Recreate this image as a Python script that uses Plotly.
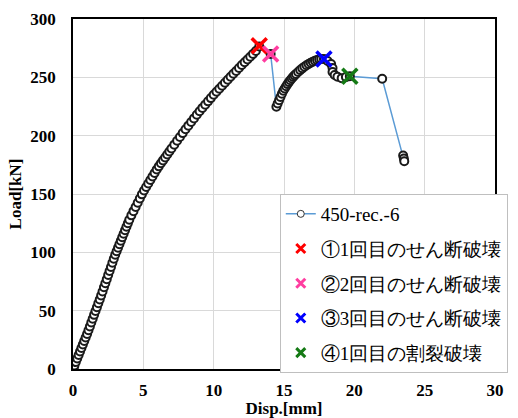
import plotly.graph_objects as go

# Main series "450-rec.-6"
disp = [0.00, 0.02, 0.05, 0.10, 0.20, 0.30, 0.40, 0.50, 0.60, 0.70, 0.80, 0.90,
        1.00, 1.10, 1.20, 1.30, 1.40, 1.50, 1.60, 1.70, 1.80, 1.90,
        2.00, 2.10, 2.20, 2.30, 2.40, 2.50, 2.60, 2.70, 2.80, 2.90,
        3.00, 3.10, 3.20, 3.30, 3.40, 3.50, 3.60, 3.70, 3.80, 3.90,
        4.00, 4.15, 4.30, 4.45, 4.60, 4.75, 4.90, 5.05, 5.20, 5.35,
        5.50, 5.65, 5.80, 5.95, 6.10, 6.25, 6.40, 6.55, 6.70, 6.85,
        7.00, 7.20, 7.40, 7.60, 7.80, 8.00, 8.20, 8.40, 8.60, 8.80,
        9.00, 9.20, 9.40, 9.60, 9.80, 10.00, 10.20, 10.40, 10.60, 10.80,
        11.00, 11.20, 11.40, 11.60, 11.80, 12.00, 12.20, 12.40, 12.60, 12.80,
        13.00, 13.24, 14.05,
        14.46, 14.55, 14.65, 14.75, 14.85, 14.95, 15.05, 15.15, 15.25, 15.35,
        15.45, 15.55, 15.65, 15.75, 15.85, 16.00, 16.15, 16.30, 16.45, 16.60,
        16.75, 16.90, 17.05, 17.20, 17.35, 17.50, 17.65, 17.84,
        18.10, 18.35, 18.45, 18.45, 18.60, 18.80, 19.10, 19.40, 19.68,
        21.98, 23.47, 23.52, 23.55]
load = [0.0, 0.5, 1.2, 3.0, 6.0, 9.0, 12.0, 15.0, 18.0, 21.0, 24.0, 27.0,
        30.0, 33.2, 36.5, 39.8, 43.1, 46.4, 49.7, 53.0, 56.3, 59.6,
        63.0, 66.5, 70.0, 73.5, 77.0, 80.5, 84.0, 87.5, 91.0, 94.5,
        98.0, 101.0, 104.0, 107.0, 110.0, 113.0, 116.0, 119.0, 122.0, 125.0,
        128.0, 131.7, 135.3, 138.9, 142.5, 146.1, 149.7, 153.0, 156.0, 159.0,
        162.0, 165.0, 168.0, 171.0, 173.7, 176.3, 178.8, 181.3, 183.9, 186.4,
        189.0, 192.3, 195.6, 198.9, 202.2, 205.5, 208.6, 211.7, 214.8, 217.9,
        221.0, 223.8, 226.6, 229.4, 232.2, 235.0, 237.6, 240.2, 242.8, 245.4,
        248.0, 250.5, 253.0, 255.5, 258.0, 260.5, 262.9, 265.3, 267.7, 270.1,
        272.5, 276.5, 270.0,
        224.8, 227.5, 230.4, 233.2, 235.9, 238.5, 240.5, 242.4, 244.2, 245.9,
        247.5, 249.0, 250.4, 251.7, 252.9, 254.6, 256.2, 257.7, 259.1, 260.4,
        261.5, 262.5, 263.4, 264.2, 264.9, 265.4, 265.7, 265.8,
        264.0, 261.5, 258.0, 254.5, 252.0, 250.5, 249.3, 250.2, 251.0,
        248.8, 183.0, 180.5, 178.0]

# Failure points (X markers)
fail_names = ["①1回目のせん断破壊", "②2回目のせん断破壊", "③3回目のせん断破壊", "④1回目の割裂破壊"]
fail_disp = [13.24, 14.05, 17.84, 19.68]
fail_load = [277.0, 270.0, 265.8, 251.0]
fail_colors = ["#ff0000", "#ff3da0", "#0000ff", "#157a15"]

x_ticks = [0, 5, 10, 15, 20, 25, 30]
y_ticks = [0, 50, 100, 150, 200, 250, 300]

SERIF = "Times New Roman, Liberation Serif, serif"

fig = go.Figure()
fig.add_trace(go.Scatter(
    x=disp, y=load, mode="lines+markers", name="450-rec.-6",
    line=dict(color="#5b9bd5", width=1.5),
    marker=dict(symbol="circle", size=8, color="white",
                line=dict(color="#1a1a1a", width=2)),
    legendgroup="g0", showlegend=False,
))
# legend entry for main series (small symbol like the reference)
fig.add_trace(go.Scatter(
    x=[None], y=[None], mode="lines+markers", name="450-rec.-6",
    line=dict(color="#5b9bd5", width=1.5),
    marker=dict(symbol="circle", size=7, color="white",
                line=dict(color="#333333", width=1)),
    legendgroup="g0",
))
for i, (n, xv, yv, c) in enumerate(zip(fail_names, fail_disp, fail_load, fail_colors)):
    fig.add_trace(go.Scatter(
        x=[xv], y=[yv], mode="markers", name=n,
        marker=dict(symbol="x-thin", size=15, color=c, line=dict(color=c, width=3.5)),
        legendgroup=f"g{i+1}", showlegend=False,
    ))
    fig.add_trace(go.Scatter(
        x=[None], y=[None], mode="markers", name=n,
        marker=dict(symbol="x-thin", size=9, color=c, line=dict(color=c, width=3)),
        legendgroup=f"g{i+1}",
    ))

fig.update_layout(
    width=518, height=418,
    margin=dict(l=73, r=10, t=19, b=49),
    paper_bgcolor="white", plot_bgcolor="white",
    font=dict(family=SERIF, color="black"),
    showlegend=True,
    legend=dict(
        x=0.49, y=0.50, xanchor="left", yanchor="top",
        bgcolor="white", bordercolor="#bfbfbf", borderwidth=1,
        font=dict(family=SERIF, size=19, color="black"),
        tracegroupgap=7,
    ),
    xaxis=dict(
        range=[0, 30], tickvals=x_ticks, ticktext=[str(v) for v in x_ticks],
        showgrid=True, gridcolor="#d9d9d9", gridwidth=1,
        showline=True, linecolor="black", linewidth=1.5, mirror=True,
        ticks="", ticklabelstandoff=5, zeroline=False, automargin=False,
        tickfont=dict(family=SERIF, size=17, color="black", weight=700),
        title=dict(text="Disp.[mm]", standoff=3,
                   font=dict(family=SERIF, size=17, color="black", weight=700)),
    ),
    yaxis=dict(
        range=[0, 300], tickvals=y_ticks, ticktext=[str(v) for v in y_ticks],
        showgrid=True, gridcolor="#d9d9d9", gridwidth=1,
        showline=True, linecolor="black", linewidth=1.5, mirror=True,
        ticks="", ticklabelstandoff=12, zeroline=False, automargin=False,
        tickfont=dict(family=SERIF, size=17, color="black", weight=700),
        title=dict(text="Load[kN]", standoff=4,
                   font=dict(family=SERIF, size=17, color="black", weight=700)),
    ),
)

fig.write_html("out.html")
